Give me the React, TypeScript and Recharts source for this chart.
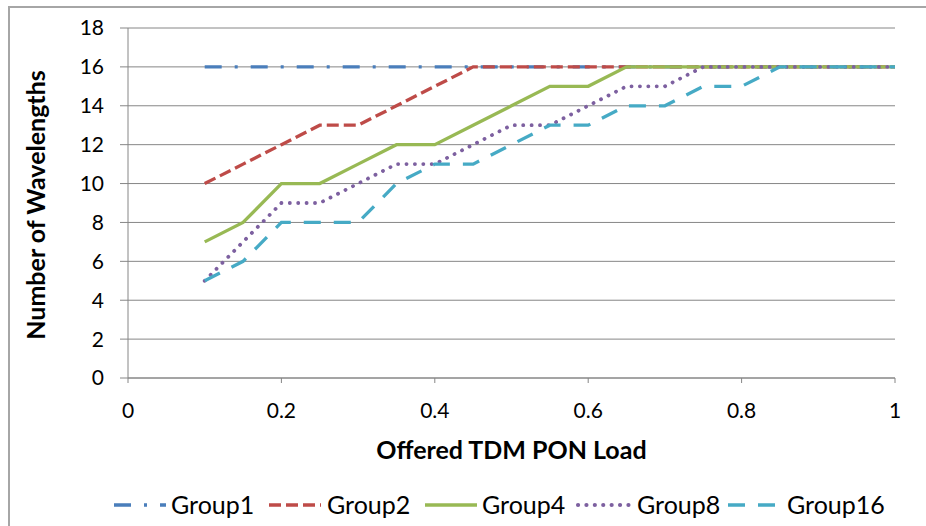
import React from 'react';
import { LineChart, Line, XAxis, YAxis, CartesianGrid } from 'recharts';

const loads = [0.1, 0.15, 0.2, 0.25, 0.3, 0.35, 0.4, 0.45, 0.5, 0.55, 0.6, 0.65, 0.7, 0.75, 0.8, 0.85, 0.9, 0.95, 1.0];
const group1 = [16, 16, 16, 16, 16, 16, 16, 16, 16, 16, 16, 16, 16, 16, 16, 16, 16, 16, 16];
const group2 = [10, 11, 12, 13, 13, 14, 15, 16, 16, 16, 16, 16, 16, 16, 16, 16, 16, 16, 16];
const group4 = [7, 8, 10, 10, 11, 12, 12, 13, 14, 15, 15, 16, 16, 16, 16, 16, 16, 16, 16];
const group8 = [5, 7, 9, 9, 10, 11, 11, 12, 13, 13, 14, 15, 15, 16, 16, 16, 16, 16, 16];
const group16 = [5, 6, 8, 8, 8, 10, 11, 11, 12, 13, 13, 14, 14, 15, 15, 16, 16, 16, 16];

const xTicks = [0, 0.2, 0.4, 0.6, 0.8, 1];
const yTicks = [0, 2, 4, 6, 8, 10, 12, 14, 16, 18];

const seriesNames = ['Group1', 'Group2', 'Group4', 'Group8', 'Group16'];
const seriesValues = [group1, group2, group4, group8, group16];
const seriesColors = ['#4A7EBB', '#BE4B48', '#98B954', '#7D60A0', '#46AAC5'];
const seriesDash = ['17 13 3 13', '12 5', undefined, '0.1 8.3', '17 13'];
const seriesCap: ('butt' | 'round')[] = ['butt', 'butt', 'butt', 'round', 'butt'];
const seriesWidth = [3.3, 3.3, 3.3, 3.8, 3.3];

const legendSampleX = [114, 269, 425, 578, 728];
const legendTextX = [171, 327, 482, 637, 787];

const rows = loads.map((load, i) => {
  const r: Record<string, number> = { load };
  seriesNames.forEach((n, s) => {
    r[n] = seriesValues[s][i];
  });
  return r;
});

const FONT = 'Lato, "Open Sans", sans-serif';
const GRID = '#868686';

const fmt = (v: number) => (v === 0 ? '0' : v === 1 ? '1' : String(v));

const XTitle = (props: any) => {
  const vb = props.viewBox || { x: 128, y: 378, width: 767, height: 90 };
  return (
    <text
      x={vb.x + vb.width / 2}
      y={vb.y + 81}
      textAnchor="middle"
      fontFamily={FONT}
      fontWeight={700}
      fontSize={25}
      fill="#000"
    >
      Offered TDM PON Load
    </text>
  );
};

const YTitle = (props: any) => {
  const vb = props.viewBox || { x: 0, y: 28, width: 128, height: 350 };
  const cx = vb.x + 45;
  const cy = vb.y + vb.height / 2 + 2;
  return (
    <text
      x={cx}
      y={cy}
      textAnchor="middle"
      transform={`rotate(-90, ${cx}, ${cy})`}
      fontFamily={FONT}
      fontWeight={700}
      fontSize={25}
      fill="#000"
    >
      Number of Wavelengths
    </text>
  );
};

export default function App() {
  return (
    <div style={{ position: 'absolute', left: 0, top: 0, width: 926, height: 526, background: '#fff', overflow: 'hidden' }}>
      <div
        style={{
          position: 'absolute',
          left: 8,
          top: 6,
          width: 1000,
          height: 1000,
          borderTop: '2px solid #a6a6a6',
          borderLeft: '2px solid #a6a6a6',
          boxSizing: 'border-box',
        }}
      />
      <div style={{ position: 'absolute', left: 0, top: 0 }}>
        <LineChart width={926} height={526} data={rows} margin={{ top: 28, right: 31, bottom: 58, left: 0 }}>
          <CartesianGrid vertical={false} stroke={GRID} strokeWidth={1} />
          <XAxis
            dataKey="load"
            type="number"
            domain={[0, 1]}
            ticks={xTicks}
            tickFormatter={fmt}
            height={90}
            tickSize={5}
            tickMargin={20}
            axisLine={{ stroke: GRID }}
            tickLine={{ stroke: GRID }}
            tick={{ fontSize: 21, fill: '#000', fontFamily: FONT }}
            label={<XTitle />}
          />
          <YAxis
            type="number"
            domain={[0, 18]}
            ticks={yTicks}
            width={128}
            tickSize={8}
            tickMargin={16}
            axisLine={{ stroke: GRID }}
            tickLine={{ stroke: GRID }}
            tick={{ fontSize: 21, fill: '#000', fontFamily: FONT }}
            label={<YTitle />}
          />
          {seriesNames.map((n, s) => (
            <Line
              key={n}
              type="linear"
              dataKey={n}
              name={n}
              stroke={seriesColors[s]}
              strokeWidth={seriesWidth[s]}
              strokeDasharray={seriesDash[s]}
              strokeLinecap={seriesCap[s]}
              dot={false}
              activeDot={false}
              isAnimationActive={false}
            />
          ))}
        </LineChart>
      </div>
      <svg width={926} height={526} style={{ position: 'absolute', left: 0, top: 0, pointerEvents: 'none' }}>
        {seriesNames.map((n, s) => (
          <g key={n}>
            <line
              x1={legendSampleX[s]}
              x2={legendSampleX[s] + 52}
              y1={505}
              y2={505}
              stroke={seriesColors[s]}
              strokeWidth={seriesWidth[s] + 0.3}
              strokeDasharray={seriesDash[s]}
              strokeLinecap={seriesCap[s]}
            />
            <text x={legendTextX[s]} y={514} fontFamily={FONT} fontSize={25} fill="#000">
              {n}
            </text>
          </g>
        ))}
      </svg>
    </div>
  );
}
